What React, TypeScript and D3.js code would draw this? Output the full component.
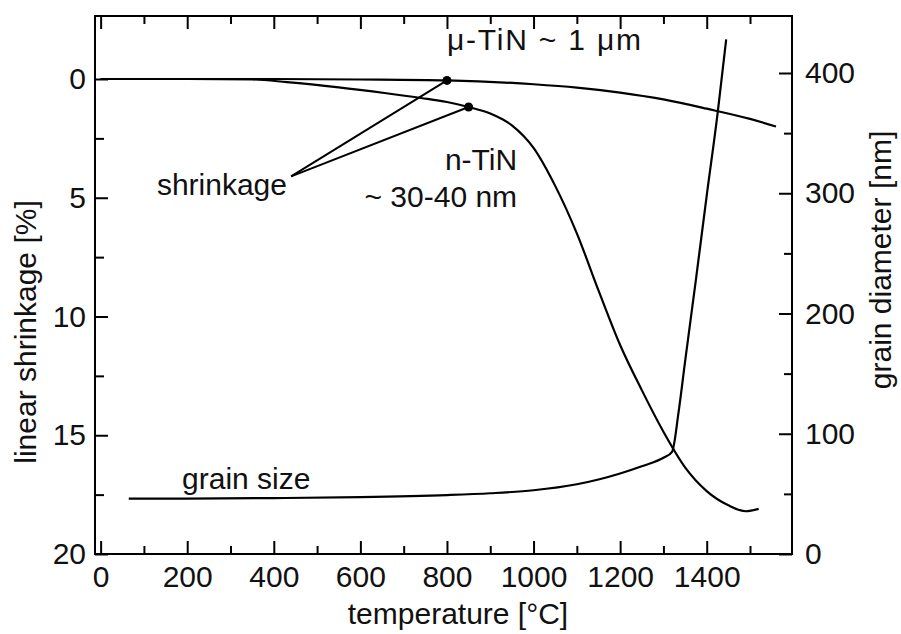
import React, { useEffect, useRef } from 'react';
import * as d3 from 'd3';

// micro-sized TiN shrinkage
const muTemp = [0, 200, 400, 600, 800, 1000, 1100, 1200, 1300, 1400, 1500, 1560];
const muShrink = [0, 0, 0, 0.02, 0.06, 0.22, 0.36, 0.57, 0.86, 1.25, 1.68, 2.0];

// nano-sized TiN shrinkage
const nTemp = [0, 200, 350, 430, 550, 660, 740, 800, 850, 900, 950, 1000, 1050, 1100, 1150, 1200, 1250, 1300, 1350, 1400, 1450, 1490, 1520];
const nShrink = [0, 0, 0.02, 0.13, 0.35, 0.6, 0.8, 0.97, 1.18, 1.45, 1.95, 2.9, 4.5, 6.5, 8.9, 11.2, 13.1, 14.85, 16.35, 17.35, 17.95, 18.2, 18.1];

// grain diameter (right axis, nm)
const grainTemp = [65, 200, 400, 600, 800, 900, 1000, 1100, 1150, 1200, 1250, 1300, 1320, 1335, 1350, 1375, 1400, 1425, 1445];
const grainSize = [46, 46, 46.5, 47.3, 49, 50.5, 53, 58, 62, 67, 73, 80, 85, 118, 160, 228, 298, 366, 428];

// marked shrinkage points
const dotTemp = [800, 850];
const dotShrink = [0.06, 1.18];

const xMajor = [0, 200, 400, 600, 800, 1000, 1200, 1400];
const xMinor = [100, 300, 500, 700, 900, 1100, 1300, 1500];
const leftMajor = [0, 5, 10, 15, 20];
const leftMinor = [2.5, 7.5, 12.5, 17.5];
const rightMajor = [0, 100, 200, 300, 400];
const rightMinor = [50, 150, 250, 350];

const FONT = '"Liberation Sans", Arial, sans-serif';
const FS = 30;

const App = () => {
  const ref = useRef<SVGSVGElement>(null);

  useEffect(() => {
    const svg = d3.select(ref.current);
    svg.selectAll('*').remove();

    const left = 95, right = 792, top = 16, bottom = 554;

    const x = d3.scaleLinear().domain([-13, 1597]).range([left, right]);
    const yL = d3.scaleLinear().domain([0, 20]).range([79, bottom]);
    const yR = d3.scaleLinear().domain([0, 400]).range([bottom, 73]);

    // Frame
    svg.append('rect')
      .attr('x', left).attr('y', top)
      .attr('width', right - left).attr('height', bottom - top)
      .attr('fill', 'none').attr('stroke', '#000').attr('stroke-width', 2);

    const styleAxis = (g, hideText = false) => {
      g.select('.domain').remove();
      g.attr('font-family', FONT).attr('font-size', FS);
      g.selectAll('line').attr('stroke', '#000').attr('stroke-width', 2);
      g.selectAll('text').attr('fill', '#111');
      if (hideText) g.selectAll('text').remove();
    };

    // Bottom axis
    svg.append('g').attr('transform', `translate(0,${bottom})`)
      .call(d3.axisBottom(x).tickValues(xMajor).tickSize(-13).tickPadding(12).tickFormat(d3.format('d')))
      .call(g => styleAxis(g));
    svg.append('g').attr('transform', `translate(0,${bottom})`)
      .call(d3.axisBottom(x).tickValues(xMinor).tickSize(-8))
      .call(g => styleAxis(g, true));

    // Top axis
    svg.append('g').attr('transform', `translate(0,${top})`)
      .call(d3.axisTop(x).tickValues(xMajor).tickSize(-13))
      .call(g => styleAxis(g, true));
    svg.append('g').attr('transform', `translate(0,${top})`)
      .call(d3.axisTop(x).tickValues(xMinor).tickSize(-8))
      .call(g => styleAxis(g, true));

    // Left axis
    svg.append('g').attr('transform', `translate(${left},0)`)
      .call(d3.axisLeft(yL).tickValues(leftMajor).tickSize(-13).tickPadding(9).tickFormat(d3.format('d')))
      .call(g => styleAxis(g));
    svg.append('g').attr('transform', `translate(${left},0)`)
      .call(d3.axisLeft(yL).tickValues(leftMinor).tickSize(-9))
      .call(g => styleAxis(g, true));

    // Right axis
    svg.append('g').attr('transform', `translate(${right},0)`)
      .call(d3.axisRight(yR).tickValues(rightMajor).tickSize(-13).tickPadding(13).tickFormat(d3.format('d')))
      .call(g => styleAxis(g));
    svg.append('g').attr('transform', `translate(${right},0)`)
      .call(d3.axisRight(yR).tickValues(rightMinor).tickSize(-8))
      .call(g => styleAxis(g, true));

    // Curves
    const curveLine = d3.line().curve(d3.curveMonotoneX);

    const drawCurve = (temps, vals, scale) => {
      svg.append('path')
        .datum(temps.map((t, i) => [x(t), scale(vals[i])]))
        .attr('fill', 'none')
        .attr('stroke', '#000')
        .attr('stroke-width', 2.2)
        .attr('stroke-linejoin', 'round')
        .attr('d', curveLine as any);
    };
    drawCurve(muTemp, muShrink, yL);
    drawCurve(nTemp, nShrink, yL);
    drawCurve(grainTemp, grainSize, yR);

    // Leader lines from "shrinkage" label to marked points
    const anchor = [x(440), yL(4.1)];
    dotTemp.forEach((t, i) => {
      svg.append('line')
        .attr('x1', anchor[0]).attr('y1', anchor[1])
        .attr('x2', x(t)).attr('y2', yL(dotShrink[i]))
        .attr('stroke', '#000').attr('stroke-width', 2);
      svg.append('circle')
        .attr('cx', x(t)).attr('cy', yL(dotShrink[i]))
        .attr('r', 4.5).attr('fill', '#000');
    });

    // Annotations
    const label = (tx, ty, text, anchorPos = 'start', len = 0) => {
      const t = svg.append('text')
        .attr('x', tx).attr('y', ty)
        .attr('font-family', FONT).attr('font-size', FS)
        .attr('fill', '#111')
        .attr('text-anchor', anchorPos)
        .text(text);
      if (len) t.attr('textLength', len);
    };
    label(x(800), 50, 'μ-TiN ~ 1 μm', 'start', 194);
    label(x(130), 195, 'shrinkage');
    label(x(962), 170, 'n-TiN', 'end');
    label(x(962), 207, '~ 30-40 nm', 'end');
    label(x(188), 489, 'grain size');

    // Axis titles
    label(458, 624, 'temperature [°C]', 'middle');
    svg.append('text')
      .attr('transform', 'translate(36,332) rotate(-90)')
      .attr('font-family', FONT).attr('font-size', FS).attr('fill', '#111')
      .attr('text-anchor', 'middle')
      .text('linear shrinkage [%]');
    svg.append('text')
      .attr('transform', 'translate(891,260) rotate(-90)')
      .attr('font-family', FONT).attr('font-size', FS).attr('fill', '#111')
      .attr('text-anchor', 'middle')
      .text('grain diameter [nm]');
  }, []);

  return (
    <svg
      ref={ref}
      width={901}
      height={634}
      style={{ position: 'absolute', left: 0, top: 0, background: '#fff' }}
    />
  );
};

export default App;
